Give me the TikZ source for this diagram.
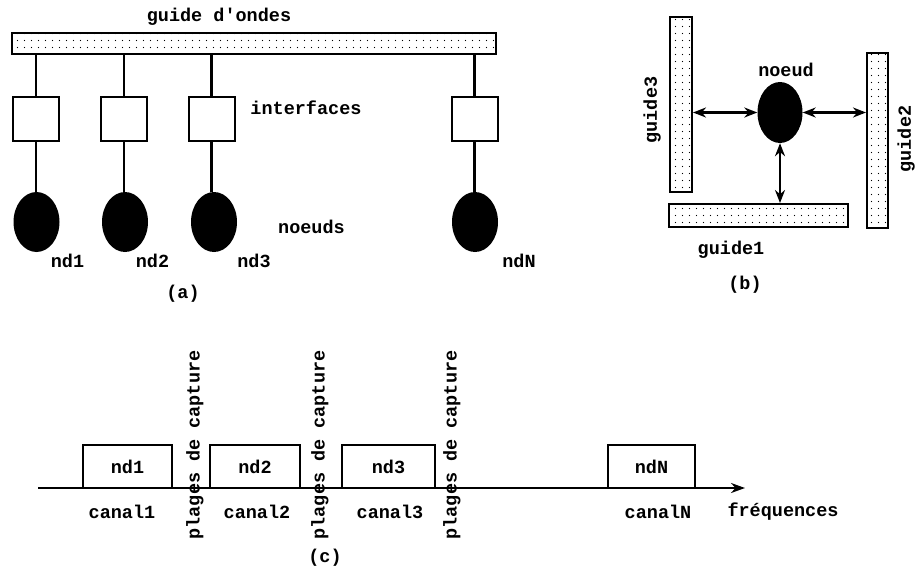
\documentclass[tikz,border=0pt]{standalone}
\usepackage{fontspec}
\setmonofont{Liberation Mono}
\usetikzlibrary{arrows.meta,shapes.geometric,patterns}
\pgfdeclarepatternformonly{sdots}{\pgfpoint{-1pt}{-1pt}}{\pgfpoint{8pt}{8pt}}{\pgfpoint{7pt}{7pt}}{\pgfpathcircle{\pgfpoint{3.5pt}{3.5pt}}{0.6pt}\pgfusepath{fill}}
\begin{document}
\begin{tikzpicture}[x=1pt,y=-1pt,
  lbl/.style={font=\ttfamily\bfseries\fontsize{18.5}{20}\selectfont, inner sep=0},
  guidebar/.style={draw, line width=2pt, pattern=sdots, inner sep=0},
  ibox/.style={draw, line width=2pt, minimum width=46pt, minimum height=44pt, inner sep=0},
  cbox/.style={draw, line width=2pt, minimum height=43pt, inner sep=0, font=\ttfamily\bfseries\fontsize{18.5}{20}\selectfont},
  nodeell/.style={ellipse, fill=black, minimum width=46pt, minimum height=60pt, inner sep=0},
  conn/.style={line width=2.2pt},
  dbl/.style={line width=2.2pt, {Stealth[length=13pt,width=10pt]}-{Stealth[length=13pt,width=10pt]}}]
\useasboundingbox (0,0) rectangle (918,576);

% (a)
\node[guidebar, minimum width=484pt, minimum height=21pt] (wg) at (254,43.5) {};
\node[lbl] (tg) at (219,17) {guide d'ondes};
\node[ibox] (i1) at (36,119) {};
\node[ibox] (i2) at (124,119) {};
\node[ibox] (i3) at (211.5,119) {};
\node[ibox] (i4) at (474.5,119) {};
\node[nodeell] (n1) at (36.5,222) {};
\node[nodeell] (n2) at (125,222) {};
\node[nodeell] (n3) at (214,222) {};
\node[nodeell] (n4) at (475,222) {};
\foreach \i in {1,2,3,4} {
  \draw[conn] (i\i.north |- wg.south) -- (i\i.north);
  \draw[conn] (i\i.south) -- (i\i.south |- n\i.north);
}
\node[lbl] (l1) at (67.5,261) {nd1};
\node[lbl] (l2) at (152.5,261) {nd2};
\node[lbl] (l3) at (254,261) {nd3};
\node[lbl] (l4) at (519,261) {ndN};
\node[lbl] (tif) at (306,108) {interfaces};
\node[lbl] (tnd) at (311.5,227) {noeuds};
\node[lbl] (ta) at (183,294) {(a)};

% (b)
\node[guidebar, minimum width=22pt, minimum height=175pt] (g3) at (681,104.5) {};
\node[guidebar, minimum width=21pt, minimum height=175pt] (g2) at (877.5,140.5) {};
\node[guidebar, minimum width=179pt, minimum height=23pt] (g1) at (758.5,215.5) {};
\node[nodeell, minimum width=45pt, minimum height=61pt] (nd) at (780,112.5) {};
\draw[dbl] (nd.west -| g3.east) -- (nd.west);
\draw[dbl] (nd.east) -- (nd.east -| g2.west);
\draw[dbl] (nd.south) -- (nd.south |- g1.north);
\node[lbl] (tnoeud) at (786,70) {noeud};
\node[lbl, rotate=90] (tg3) at (652,110) {guide3};
\node[lbl, rotate=90] (tg2) at (906,139) {guide2};
\node[lbl] (tg1) at (731,250) {guide1};
\node[lbl] (tb) at (745,285) {(b)};

% (c)
\coordinate (ax0) at (38,488);
\coordinate (ax1) at (745,488);
\draw[line width=2.2pt, -{Stealth[length=14pt,width=10pt]}] (ax0) -- (ax1);
\node[cbox, minimum width=89pt] (c1) at (127.5,466.5) {nd1};
\node[cbox, minimum width=90pt] (c2) at (255,466.5) {nd2};
\node[cbox, minimum width=93pt] (c3) at (388.5,466.5) {nd3};
\node[cbox, minimum width=87pt] (c4) at (651.5,466.5) {ndN};
\node[lbl] (k1) at (122,512) {canal1};
\node[lbl] (k2) at (257,512) {canal2};
\node[lbl] (k3) at (390,512) {canal3};
\node[lbl] (k4) at (658,512) {canalN};
\node[lbl] (tf) at (783,512) {fréquences};
\node[lbl, rotate=90] (p1) at (195,445) {plages de capture};
\node[lbl, rotate=90] (p2) at (320,445) {plages de capture};
\node[lbl, rotate=90] (p3) at (452,445) {plages de capture};
\node[lbl] (tc) at (325,558) {(c)};
\end{tikzpicture}
\end{document}
